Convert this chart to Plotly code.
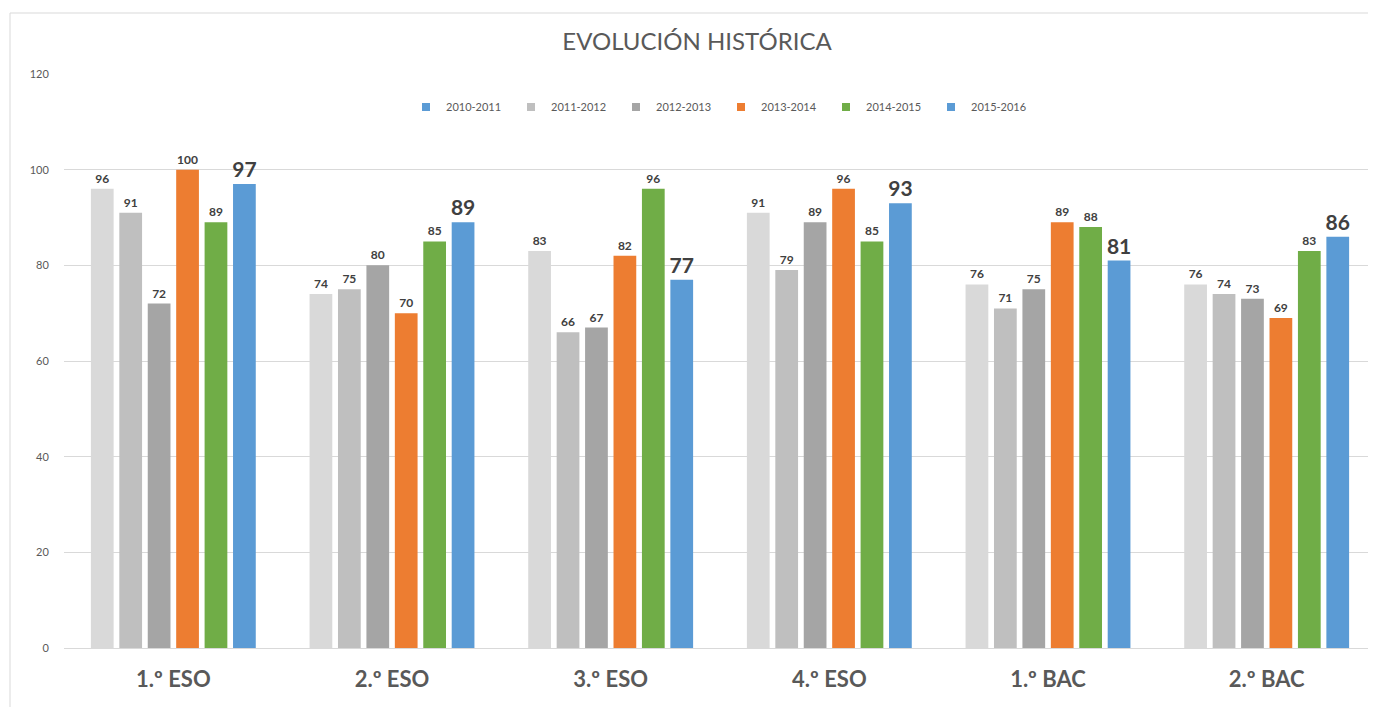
import plotly.graph_objects as go

categories = ["1.º ESO", "2.º ESO", "3.º ESO", "4.º ESO", "1.º BAC", "2.º BAC"]
series_names = ["2010-2011", "2011-2012", "2012-2013", "2013-2014", "2014-2015", "2015-2016"]
v_2010_2011 = [96, 74, 83, 91, 76, 76]
v_2011_2012 = [91, 75, 66, 79, 71, 74]
v_2012_2013 = [72, 80, 67, 89, 75, 73]
v_2013_2014 = [100, 70, 82, 96, 89, 69]
v_2014_2015 = [89, 85, 96, 85, 88, 83]
v_2015_2016 = [97, 89, 77, 93, 81, 86]
series_values = [v_2010_2011, v_2011_2012, v_2012_2013, v_2013_2014, v_2014_2015, v_2015_2016]
colors = ["#d9d9d9", "#bfbfbf", "#a5a5a5", "#ed7d31", "#70ad47", "#5b9bd5"]
legend_colors = ["#5b9bd5", "#bfbfbf", "#a5a5a5", "#ed7d31", "#70ad47", "#5b9bd5"]
y_ticks = [0, 20, 40, 60, 80, 100, 120]

FONT = "Lato"
fig = go.Figure()
for i, (name, vals) in enumerate(zip(series_names, series_values)):
    last = i == len(series_names) - 1
    fig.add_trace(go.Bar(
        x=categories, y=vals, name=name,
        marker=dict(color=colors[i], line=dict(width=0)),
        text=vals, textposition="outside", constraintext="none", cliponaxis=False,
        textfont=dict(family=FONT, size=21 if last else 12, color="#404040", weight="bold"),
        showlegend=False, legendgroup=name,
    ))
for i, name in enumerate(series_names):
    fig.add_trace(go.Scatter(
        x=[None], y=[None], name=name, mode="markers",
        marker=dict(color=legend_colors[i], symbol="square", size=8),
        showlegend=True, legendgroup=name,
    ))

# page body has an 8px margin; positions are shifted accordingly
W, H = 1360, 699
L, R, T, B = 56, 0, 66, 59
pw, ph = W - L - R, H - T - B

fig.update_layout(
    width=W, height=H,
    margin=dict(l=L, r=R, t=T, b=B),
    paper_bgcolor="white", plot_bgcolor="white",
    barmode="group", bargap=0.22, bargroupgap=0.2,
    font=dict(family=FONT, color="#595959"),
    title=dict(text="EVOLUCIÓN HISTÓRICA", x=689 / W, xanchor="center",
               y=1 - 34 / H, yanchor="middle",
               font=dict(family=FONT, size=24, color="#595959")),
    legend=dict(orientation="h", x=(713 - L) / pw, xanchor="center", y=(H - B - 99) / ph, yanchor="middle",
                font=dict(family=FONT, size=11, color="#595959"), entrywidth=60,
                itemwidth=30, bgcolor="rgba(0,0,0,0)"),
    xaxis=dict(range=[-0.5, 5.5 - 8 / 218.6], showgrid=False, showline=True, linecolor="#d9d9d9", linewidth=1,
               ticks="outside", ticklen=12, tickcolor="rgba(0,0,0,0)",
               tickfont=dict(family=FONT, size=22, color="#595959", weight="bold")),
    yaxis=dict(range=[0, 120], tickvals=y_ticks, showgrid=True, gridcolor="#d9d9d9", gridwidth=1,
               zeroline=False, showline=False, ticks="outside", ticklen=12, tickcolor="rgba(0,0,0,0)",
               tickfont=dict(family=FONT, size=11, color="#595959")),
    shapes=[dict(type="rect", xref="paper", yref="paper",
                 x0=(2 - L) / pw, x1=1.05, y0=-0.2, y1=1 + (T - 5) / ph,
                 line=dict(color="#d9d9d9", width=1), fillcolor="rgba(0,0,0,0)", layer="below")],
)
fig.write_html("out.html")
